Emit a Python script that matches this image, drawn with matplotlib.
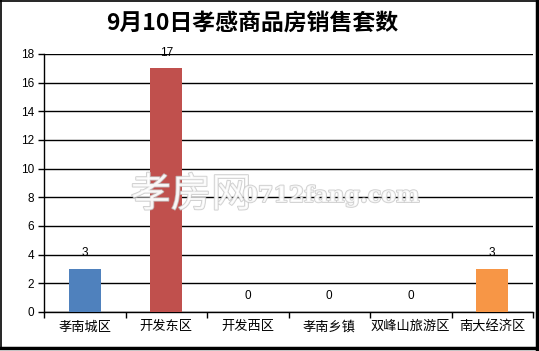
import matplotlib
matplotlib.use("Agg")
import matplotlib.pyplot as plt
from matplotlib.lines import Line2D
import matplotlib.patheffects as pe

plt.rcParams['font.family'] = ['Noto Sans CJK SC', 'DejaVu Sans']

title = "9月10日孝感商品房销售套数"
categories = ["孝南城区", "开发东区", "开发西区", "孝南乡镇", "双峰山旅游区", "南大经济区"]
values = [3, 17, 0, 0, 0, 3]
colors = ["#4F81BD", "#C0504D", "#C0504D", "#C0504D", "#C0504D", "#F79646"]
yticks = [0, 2, 4, 6, 8, 10, 12, 14, 16, 18]

W, H = 539, 351
fig = plt.figure(figsize=(W / 100, H / 100), dpi=100)
ax = fig.add_axes([44 / W, 1 - 312 / H, (533 - 44) / W, (312 - 54) / H])

x = list(range(len(categories)))
bars = ax.bar(x, values, width=0.39, color=colors, zorder=3)
for xi, v in zip(x, values):
    ax.annotate(str(v), (xi, v), xytext=(0, 7), textcoords='offset points',
                ha='center', va='bottom', fontsize=8.5, family=['Liberation Sans'], zorder=4)

ax.set_xlim(-0.5, len(categories) - 0.5)
ax.set_ylim(0, 18)
ax.set_yticks(yticks)
ax.set_yticklabels([str(t) for t in yticks], family=['Liberation Sans'], fontsize=8.5)
ax.grid(axis='y', color='black', linewidth=1, zorder=1)
ax.set_axisbelow(True)

ax.set_xticks(x)
ax.set_xticklabels(categories, fontsize=9.5)
ax.tick_params(axis='x', which='major', length=0, pad=6)
ax.set_xticks([i - 0.5 for i in range(len(categories) + 1)], minor=True)
ax.tick_params(axis='x', which='minor', length=4, width=1, direction='out', color='black')
ax.tick_params(axis='y', length=4, width=1, direction='out', pad=3)

for s in ['top', 'right']:
    ax.spines[s].set_visible(False)
for s in ['left', 'bottom']:
    ax.spines[s].set_color('black')
    ax.spines[s].set_linewidth(1)

fig.text(0.467, 1 - 23 / H, title, ha='center', va='center', fontsize=16.5, fontweight='bold')

# watermark
wm_effect = [pe.withStroke(linewidth=1.3, foreground='#C4C4C4')]
fig.text(191 / W, 1 - 195 / H, "孝房网", ha='center', va='center', fontsize=29,
         color='white', alpha=0.8, path_effects=wm_effect, zorder=5)
fig.text(331 / W, 1 - 196 / H, "0712fang.com", ha='center', va='center', fontsize=16,
         family=['DejaVu Serif'], fontweight='bold', color='white', alpha=0.8,
         path_effects=wm_effect, zorder=5)

# outer frame
def fl(xs, ys, lw):
    fig.add_artist(Line2D([a / W for a in xs], [1 - b / H for b in ys],
                          transform=fig.transFigure, color='black', linewidth=lw))

fl([0.5, 0.5], [0, 349], 1.2)
fl([0, 537], [0.5, 0.5], 1.2)
fl([536.5, 536.5], [0, 349], 2.5)
fl([0, 538], [347.8, 347.8], 2.5)

fig.savefig("out.png", dpi=100)
